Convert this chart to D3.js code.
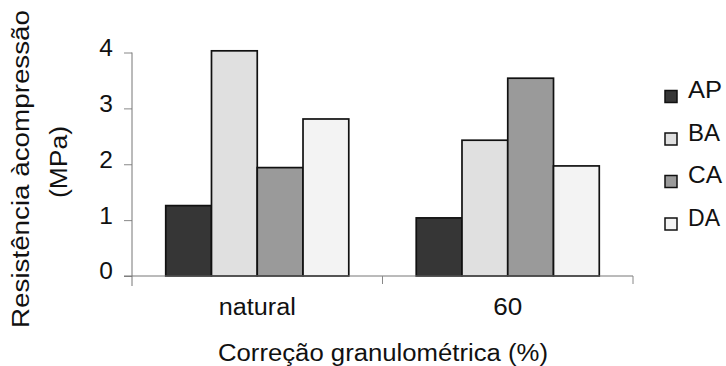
<!DOCTYPE html>
<html>
<head>
<meta charset="utf-8">
<script src="https://cdn.jsdelivr.net/npm/d3@7"></script>
<style>
  html, body { margin: 0; padding: 0; background: #fff; }
  svg text { font-family: "Liberation Sans", Arial, sans-serif; fill: #111; }
</style>
</head>
<body>
<svg id="chart" width="726" height="366"></svg>
<script>
// Compressive strength by granulometric correction
const categories = ["natural", "60"];
const series = ["AP", "BA", "CA", "DA"];
const valuesAP = [1.26, 1.04];
const valuesBA = [4.03, 2.43];
const valuesCA = [1.94, 3.54];
const valuesDA = [2.81, 1.97];
const yTicks = [0, 1, 2, 3, 4];
const seriesColors = ["#363636", "#e0e0e0", "#9a9a9a", "#f3f3f3"];

const seriesValues = { AP: valuesAP, BA: valuesBA, CA: valuesCA, DA: valuesDA };
const rows = categories.map((c, i) => ({
  category: c,
  bars: series.map(s => ({ key: s, value: seriesValues[s][i] }))
}));

const svg = d3.select("#chart");
const plotLeft = 132, plotRight = 633, plotBottom = 276, plotTop = 52.5;
const fontSize = 23.5;

const x0 = d3.scaleBand().domain(categories).range([plotLeft, plotRight]).padding(0);
const x1 = d3.scaleBand().domain(series).range([0, x0.bandwidth()])
  .paddingInner(0).paddingOuter(0.737);
const y = d3.scaleLinear().domain([0, 4]).range([plotBottom, plotTop]);
const color = d3.scaleOrdinal().domain(series).range(seriesColors);

// Bars
const groups = svg.append("g").selectAll("g").data(rows).join("g")
  .attr("transform", d => `translate(${x0(d.category)},0)`);
groups.selectAll("rect").data(d => d.bars).join("rect")
  .attr("x", d => x1(d.key))
  .attr("y", d => y(d.value))
  .attr("width", x1.bandwidth())
  .attr("height", d => y(0) - y(d.value))
  .attr("fill", d => color(d.key))
  .attr("stroke", "#111")
  .attr("stroke-width", 1.7);

// Y axis
const yAxis = svg.append("g").attr("transform", `translate(${plotLeft},0)`)
  .call(d3.axisLeft(y).tickValues(yTicks).tickFormat(d3.format("d")).tickSize(8).tickPadding(11));
yAxis.select(".domain").remove();
yAxis.append("line").attr("x1", 0).attr("x2", 0).attr("y1", plotTop).attr("y2", plotBottom + 10)
  .attr("stroke", "#777").attr("stroke-width", 1);
yAxis.selectAll(".tick line").attr("stroke", "#888");
yAxis.selectAll(".tick text").attr("font-size", 24.5).attr("dy", "0.12em").attr("fill", "#111")
  .attr("font-family", "Liberation Sans, Arial, sans-serif");

// X axis
const xAxis = svg.append("g").attr("transform", `translate(0,${plotBottom})`);
xAxis.append("line").attr("x1", plotLeft - 8).attr("x2", plotRight).attr("y1", 0).attr("y2", 0)
  .attr("stroke", "#777").attr("stroke-width", 1);
const boundaries = categories.slice(1).map(c => x0(c)).concat([plotRight]);
xAxis.selectAll("line.sep").data(boundaries).join("line").attr("class", "sep")
  .attr("x1", d => d).attr("x2", d => d).attr("y1", 0).attr("y2", 8)
  .attr("stroke", "#888");
const catWidths = [77, 29];
xAxis.selectAll("text").data(categories).join("text")
  .attr("x", d => x0(d) + x0.bandwidth() / 2)
  .attr("y", 39)
  .attr("text-anchor", "middle")
  .attr("font-size", fontSize)
  .attr("textLength", (d, i) => catWidths[i])
  .attr("lengthAdjust", "spacingAndGlyphs")
  .text(d => d);

// Axis titles
svg.append("text")
  .attr("x", 383).attr("y", 361)
  .attr("text-anchor", "middle").attr("font-size", fontSize)
  .attr("textLength", 330).attr("lengthAdjust", "spacingAndGlyphs")
  .text("Correção granulométrica (%)");

svg.append("text")
  .attr("transform", "translate(29,169) rotate(-90)")
  .attr("text-anchor", "middle").attr("font-size", fontSize)
  .attr("textLength", 318).attr("lengthAdjust", "spacingAndGlyphs")
  .text("Resistência àcompressão");
svg.append("text")
  .attr("transform", "translate(67,162) rotate(-90)")
  .attr("text-anchor", "middle").attr("font-size", fontSize)
  .attr("textLength", 72).attr("lengthAdjust", "spacingAndGlyphs")
  .text("(MPa)");

// Legend
const legendWidths = [34, 32, 34, 32];
const legend = svg.append("g").selectAll("g").data(series).join("g")
  .attr("transform", (d, i) => `translate(665,${90.5 + i * 42.5})`);
legend.append("rect")
  .attr("width", 12).attr("height", 12)
  .attr("fill", d => color(d))
  .attr("stroke", "#111").attr("stroke-width", 1.5);
legend.append("text")
  .attr("x", 23).attr("y", 7.5)
  .attr("font-size", fontSize)
  .attr("textLength", (d, i) => legendWidths[i])
  .attr("lengthAdjust", "spacingAndGlyphs")
  .text(d => d);
</script>
</body>
</html>
